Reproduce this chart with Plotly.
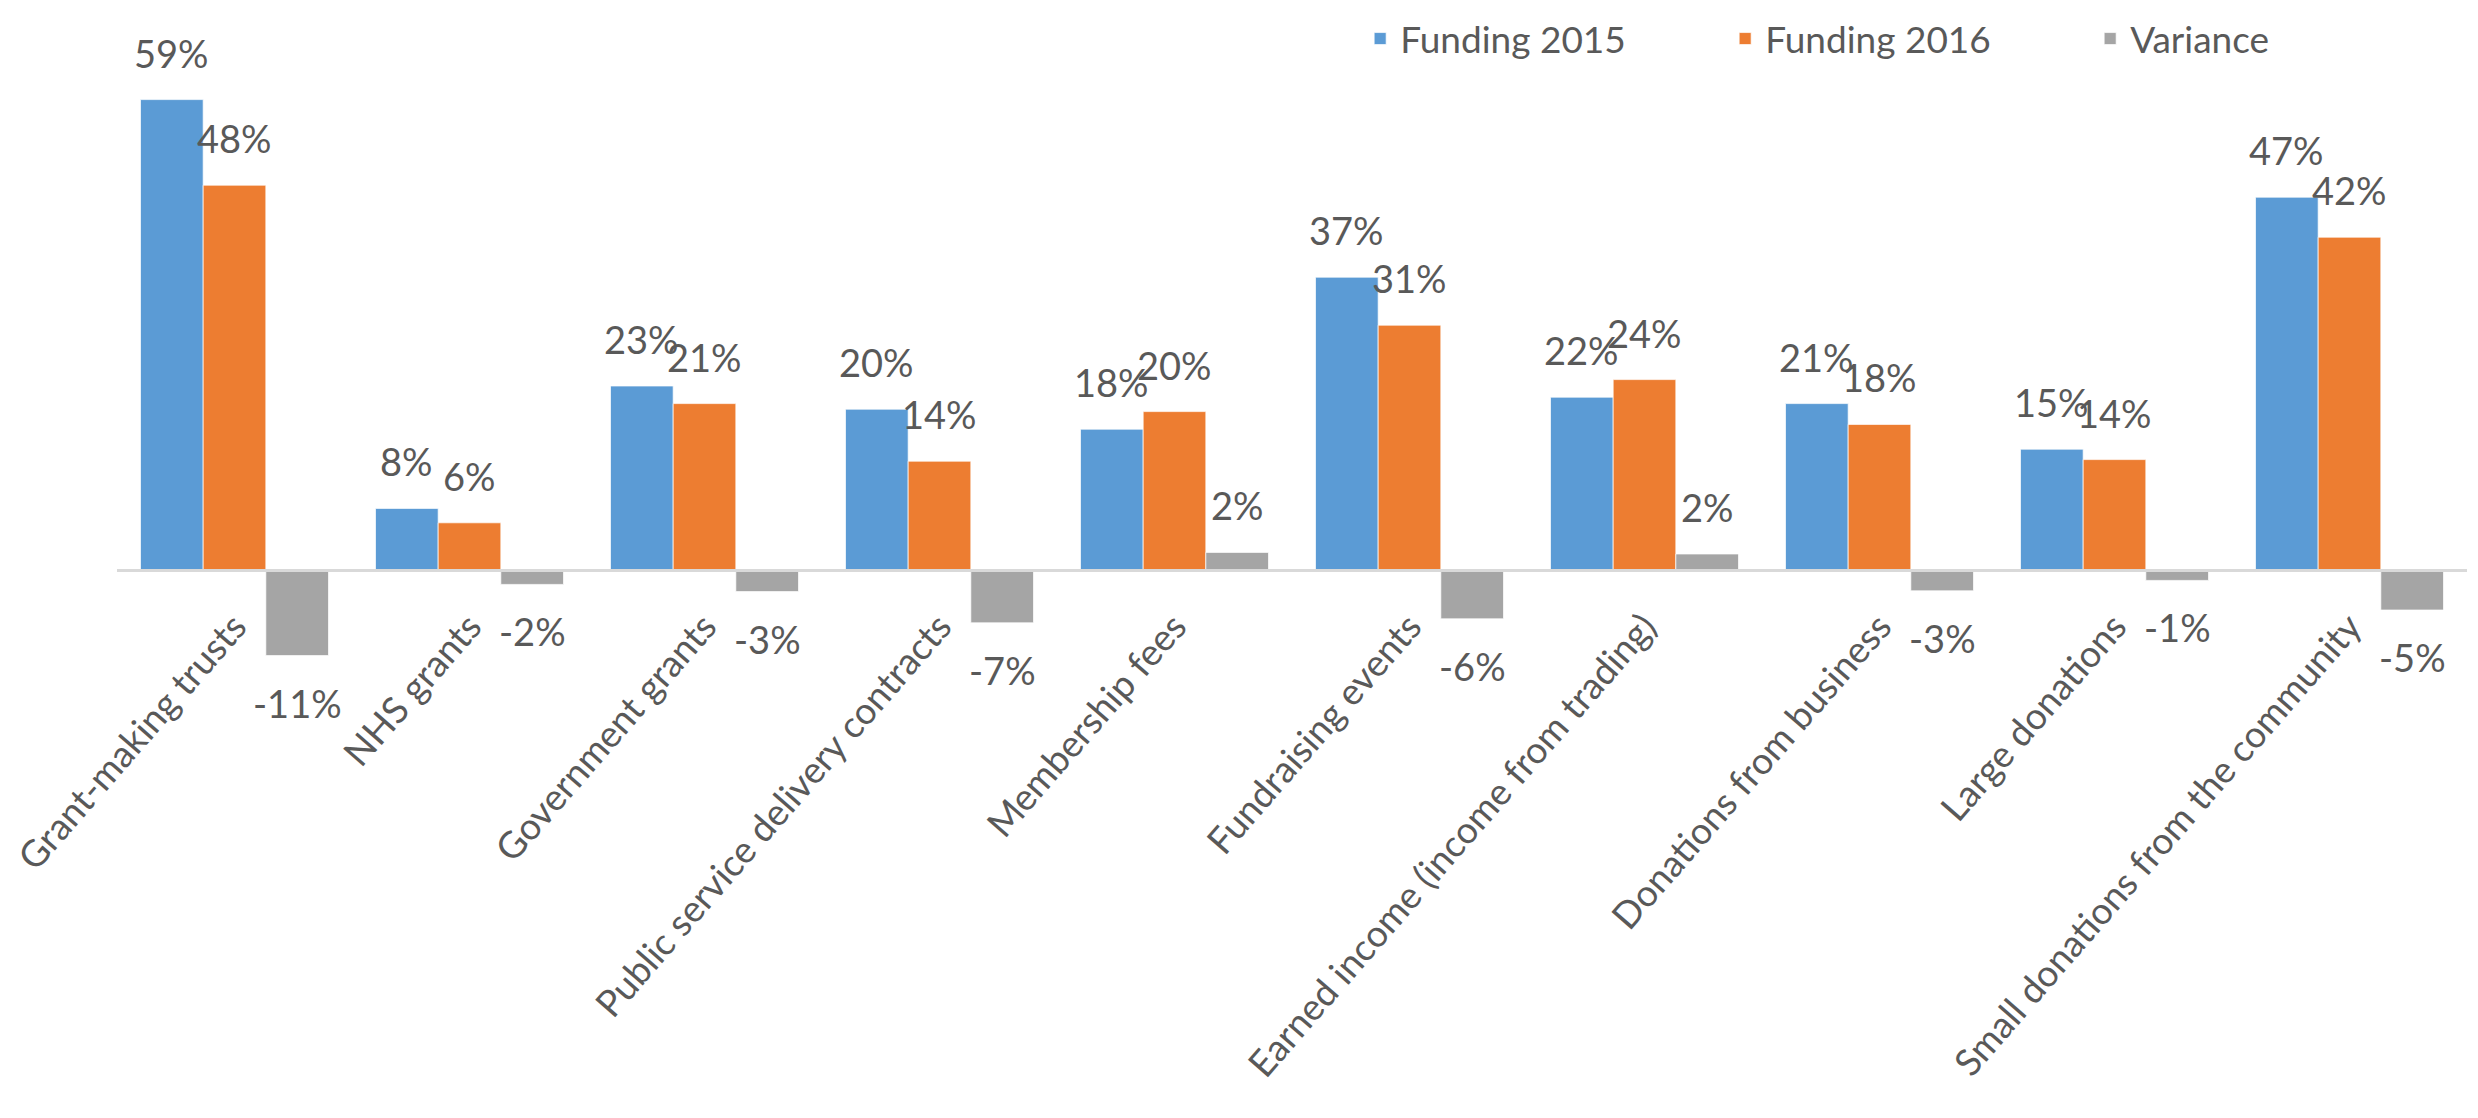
import plotly.graph_objects as go

categories = [
    "Grant-making trusts",
    "NHS grants",
    "Government grants",
    "Public service delivery contracts",
    "Membership fees",
    "Fundraising events",
    "Earned income (income from trading)",
    "Donations from business",
    "Large donations",
    "Small donations from the community",
]
funding_2015 = [58.8, 7.7, 23.0, 20.1, 17.6, 36.6, 21.6, 20.8, 15.1, 46.6]
funding_2016 = [48.1, 5.9, 20.8, 13.6, 19.8, 30.6, 23.8, 18.2, 13.8, 41.6]
variance = [-10.7, -1.8, -2.7, -6.6, 2.2, -6.1, 2.0, -2.6, -1.3, -5.0]
series_names = ["Funding 2015", "Funding 2016", "Variance"]
series_colors = ["#5B9BD5", "#ED7D31", "#A5A5A5"]

# figure size leaves room for the page's default 8px body margin
W, H = 2470, 1110
ML, MR, MT, MB = 109, 11, 2, 438
Y_MIN, Y_MAX = -13.75, 70
FONT = "Lato, 'Open Sans', sans-serif"
TXT = "#595959"
BARGAP = 0.2

fig = go.Figure()
all_series = [funding_2015, funding_2016, variance]
for name, vals, col in zip(series_names, all_series, series_colors):
    fig.add_trace(go.Bar(
        x=categories, y=vals, name=name,
        marker=dict(color=col, line=dict(color="rgba(255,255,255,0.7)", width=1)),
        hoverinfo="skip",
    ))

# data labels
plot_w = W - ML - MR
cat_px = plot_w / len(categories)
bar_px = cat_px * (1 - BARGAP) / len(all_series)
for si, vals in enumerate(all_series):
    off = (si - (len(all_series) - 1) / 2) * bar_px
    for c, v in zip(categories, vals):
        pos = v >= 0
        fig.add_annotation(
            x=c, y=v, xref="x", yref="y", text=f"{v:.0f}%", showarrow=False,
            xshift=off, yshift=22 if pos else -22,
            yanchor="bottom" if pos else "top", xanchor="center",
            font=dict(family=FONT, size=38, color=TXT),
        )

pos_frac = (0 - Y_MIN) / (Y_MAX - Y_MIN)
legend_top = (H - MB) / (H - MT - MB)

fig.update_layout(
    width=W, height=H,
    margin=dict(l=ML, r=MR, t=MT, b=MB, autoexpand=False),
    paper_bgcolor="white", plot_bgcolor="white",
    barmode="group", bargap=BARGAP, bargroupgap=0,
    font=dict(family=FONT, size=38, color=TXT),
    showlegend=True,
    legend=dict(orientation="h", x=0.529, xanchor="left", y=legend_top, yanchor="top",
                font=dict(family=FONT, size=37, color=TXT), bgcolor="rgba(0,0,0,0)",
                traceorder="normal", entrywidth=320, entrywidthmode="pixels"),
    xaxis=dict(
        anchor="free", position=pos_frac,
        showline=True, linecolor="#D9D9D9", linewidth=3,
        showgrid=False, ticks="", tickangle=-49,
        tickfont=dict(family=FONT, size=37, color=TXT),
        automargin=False, ticklabelstandoff=18,
    ),
    yaxis=dict(range=[Y_MIN, Y_MAX], visible=False, showgrid=False, zeroline=False),
)

fig.write_html("out.html")
